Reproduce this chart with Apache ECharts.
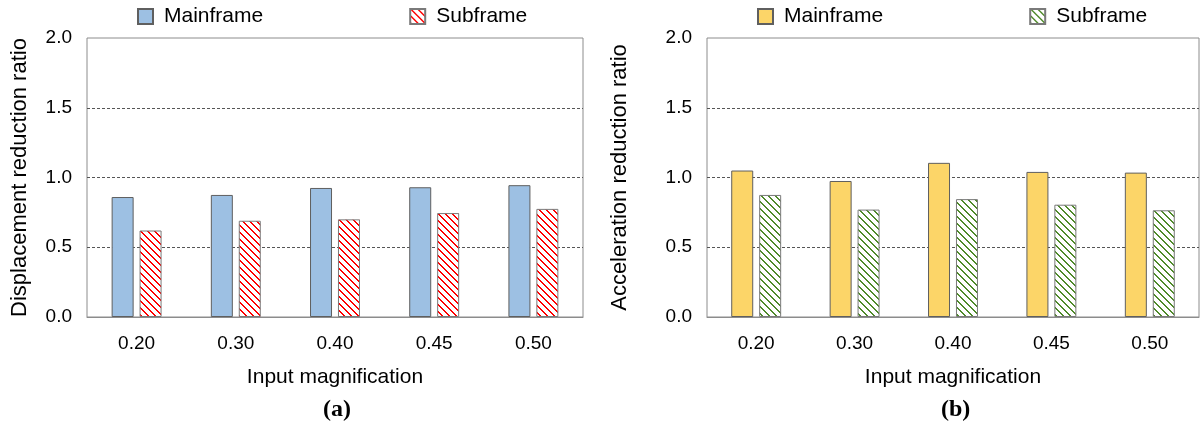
<!DOCTYPE html>
<html>
<head>
<meta charset="utf-8">
<script src="https://cdn.jsdelivr.net/npm/echarts@6/dist/echarts.min.js"></script>
<style>
  html, body { margin: 0; padding: 0; background: #fff; }
  #chart-a, #chart-b { position: absolute; top: 0; width: 600px; height: 433px; }
  #chart-a { left: 0; }
  #chart-b { left: 600px; }
</style>
</head>
<body>
<div id="chart-a"></div>
<div id="chart-b"></div>
<script>
// input magnification categories
var categories = ['0.20', '0.30', '0.40', '0.45', '0.50'];

// (a) displacement reduction ratio
var dispMain = [0.86, 0.875, 0.925, 0.93, 0.945];
var dispSub = [0.62, 0.69, 0.70, 0.745, 0.775];

// (b) acceleration reduction ratio
var accMain = [1.05, 0.975, 1.105, 1.04, 1.035];
var accSub = [0.875, 0.77, 0.845, 0.805, 0.765];

var yTicks = { min: 0, max: 2, interval: 0.5 };

var FONT = 'Liberation Sans, Arial, sans-serif';

// hatch tile: diagonal "\" stripes on white
function hatch(color) {
    var n = 7;
    var c = document.createElement('canvas');
    c.width = n;
    c.height = n;
    var ctx = c.getContext('2d');
    ctx.fillStyle = '#ffffff';
    ctx.fillRect(0, 0, n, n);
    ctx.fillStyle = color;
    for (var i = 0; i < n; i++) {
        ctx.fillRect(i, i, 1, 1);
        ctx.fillRect((i + 1) % n, i, 1, 1);
    }
    return { image: c, repeat: 'repeat' };
}

function makeOption(cfg) {
    return {
        backgroundColor: '#ffffff',
        animation: false,
        textStyle: { fontFamily: FONT },
        title: {
            text: cfg.title,
            left: cfg.titleLeft,
            top: 393,
            textStyle: { fontFamily: 'Liberation Serif, Times New Roman, serif', fontWeight: 'bold', fontSize: 24, color: '#000' }
        },
        legend: {
            left: cfg.legendLeft,
            top: 1,
            itemWidth: 15,
            itemHeight: 15,
            itemGap: 146,
            icon: 'rect',
            textStyle: { fontSize: 21, color: '#000', padding: [0, 0, 0, 6] },
            data: ['Mainframe', 'Subframe']
        },
        grid: {
            left: cfg.gridLeft,
            right: cfg.gridRight,
            top: 38,
            bottom: 116,
            show: true,
            borderColor: '#8c8c8c',
            borderWidth: 1
        },
        xAxis: {
            type: 'category',
            data: categories,
            name: 'Input magnification',
            nameLocation: 'middle',
            nameGap: 50,
            nameTextStyle: { fontSize: 21, color: '#000' },
            axisLine: { show: true, lineStyle: { color: '#8c8c8c' } },
            axisTick: { show: false },
            axisLabel: { fontSize: 19, color: '#000', margin: 17 }
        },
        yAxis: {
            type: 'value',
            min: yTicks.min,
            max: yTicks.max,
            interval: yTicks.interval,
            name: cfg.yName,
            nameLocation: 'middle',
            nameGap: cfg.yNameGap,
            nameTextStyle: { fontSize: 22, color: '#000' },
            axisLine: { show: false },
            axisTick: { show: false },
            axisLabel: {
                fontSize: 19, color: '#000', margin: 15,
                formatter: function (v) { return v.toFixed(1); }
            },
            splitLine: {
                show: true,
                showMinLine: false,
                showMaxLine: false,
                lineStyle: { color: '#555', type: [3, 2], width: 1 }
            }
        },
        series: [
            {
                name: 'Mainframe',
                type: 'bar',
                data: cfg.main,
                barWidth: 22,
                barGap: '27%',
                itemStyle: { color: cfg.mainColor, borderColor: '#5f5f5f', borderWidth: 1 }
            },
            {
                name: 'Subframe',
                type: 'bar',
                data: cfg.sub,
                barWidth: 22,
                itemStyle: { color: hatch(cfg.hatchColor), borderColor: '#7a7a7a', borderWidth: 1 }
            }
        ]
    };
}

var chartA = echarts.init(document.getElementById('chart-a'));
chartA.setOption(makeOption({
    title: '(a)',
    titleLeft: 318,
    legendLeft: 132,
    gridLeft: 87,
    gridRight: 17,
    yName: 'Displacement reduction ratio',
    yNameGap: 56,
    main: dispMain,
    sub: dispSub,
    mainColor: '#9dc0e3',
    hatchColor: '#ff0000'
}));

var chartB = echarts.init(document.getElementById('chart-b'));
chartB.setOption(makeOption({
    title: '(b)',
    titleLeft: 336,
    legendLeft: 152,
    gridLeft: 107,
    gridRight: 1,
    yName: 'Acceleration reduction ratio',
    yNameGap: 76,
    main: accMain,
    sub: accSub,
    mainColor: '#fcd568',
    hatchColor: '#4f8a2a'
}));
</script>
</body>
</html>
